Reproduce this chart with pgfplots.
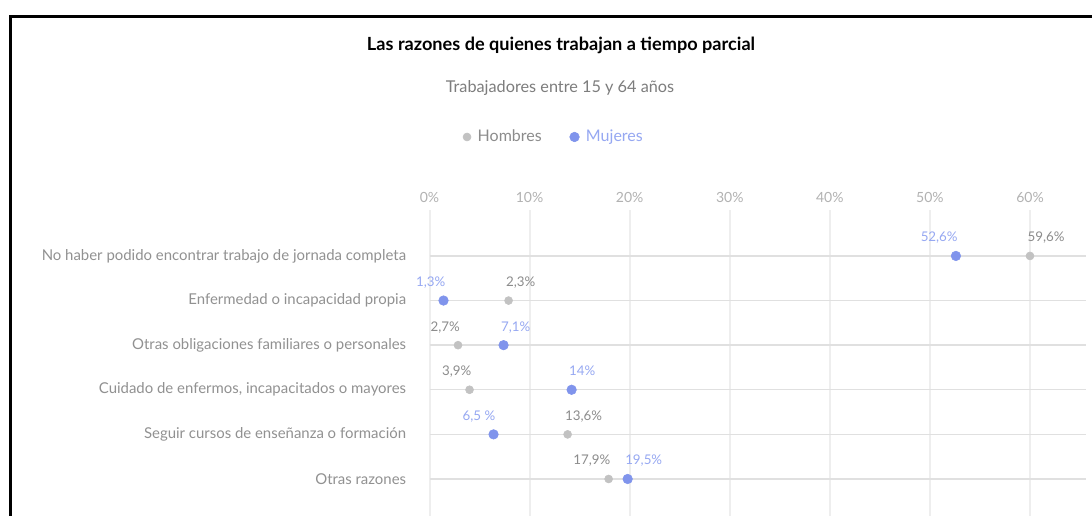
\documentclass[border=0pt]{standalone}
\usepackage{fontspec}
\setmainfont{Lato}
\usepackage{pgfplots}
\pgfplotsset{compat=1.18}
\definecolor{hdot}{RGB}{194,194,194}
\definecolor{mdot}{RGB}{128,148,236}
\definecolor{htxt}{RGB}{140,140,140}
\definecolor{mtxt}{RGB}{150,168,242}
\definecolor{cattxt}{RGB}{145,145,145}
\definecolor{ticktxt}{RGB}{178,178,178}
\definecolor{vgrid}{RGB}{238,238,238}
\definecolor{hgrid}{RGB}{224,224,224}
\definecolor{subtxt}{RGB}{125,125,125}
\begin{document}
\begin{tikzpicture}[x=0.75pt,y=-0.75pt]
\useasboundingbox (0,0) rectangle (1092,516);
\fill[white] (0,0) rectangle (1092,516);
\draw[black,line width=2.25pt] (10.5,520) -- (10.5,16.5) -- (1095,16.5);
\node[font=\bfseries\fontsize{13.6}{16}\selectfont] at (561,45) {Las razones de quienes trabajan a tiempo parcial};
\node[font=\fontsize{12.2}{14}\selectfont, text=subtxt] at (560,88) {Trabajadores entre 15 y 64 años};
\begin{axis}[
  at={(322.125pt,-157.5pt)}, anchor=north west,
  scale only axis, width=492.4pt, height=229.5pt,
  xmin=0, xmax=65.6, ymin=-1.03, ymax=5.83, y dir=reverse,
  axis line style={draw=none}, major tick length=0pt,
  xtick={0,10,...,60}, xticklabels={0\%,10\%,20\%,30\%,40\%,50\%,60\%},
  xticklabel pos=upper,
  xticklabel style={font=\fontsize{10.5}{12}\selectfont, text=ticktxt, yshift=2pt},
  ytick={0,...,5},
  yticklabels={No haber podido encontrar trabajo de jornada completa,
    Enfermedad o incapacidad propia,
    Otras obligaciones familiares o personales,
    {Cuidado de enfermos, incapacitados o mayores},
    Seguir cursos de enseñanza o formación,
    Otras razones},
  yticklabel style={font=\fontsize{11.2}{13}\selectfont, text=cattxt, xshift=-14pt},
  xmajorgrids, ymajorgrids,
  x grid style={vgrid, line width=1.5pt},
  y grid style={hgrid, line width=1pt},
  clip=false,
  legend style={draw=none, fill=none, legend columns=2, at={(0.19,1.2386)}, anchor=center,
    font=\fontsize{12}{14}\selectfont, /tikz/every even column/.append style={column sep=19pt}},
]
\addlegendimage{only marks, mark=*, mark size=3pt, color=hdot}
\addlegendentry{\hspace{3pt}\textcolor{htxt}{Hombres}}
\addlegendimage{only marks, mark=*, mark size=3.6pt, color=mdot}
\addlegendentry{\hspace{3pt}\textcolor{mtxt}{Mujeres}}
% Hombres, label left
\addplot[forget plot, only marks, mark=*, mark size=3pt, color=hdot, point meta=explicit symbolic,
  nodes near coords, nodes near coords style={anchor=base east, inner sep=0pt, xshift=1.5pt, yshift=10.5pt, text=htxt, font=\fontsize{10}{12}\selectfont}]
  coordinates {(2.85,2) [2,7\%] (4.0,3) [3,9\%] (17.9,5) [17,9\%]};
% Hombres, label right
\addplot[forget plot, only marks, mark=*, mark size=3pt, color=hdot, point meta=explicit symbolic,
  nodes near coords, nodes near coords style={anchor=base west, inner sep=0pt, xshift=-2pt, yshift=10.5pt, text=htxt, font=\fontsize{10}{12}\selectfont}]
  coordinates {(60.0,0) [59,6\%] (7.9,1) [2,3\%] (13.8,4) [13,6\%]};
% Mujeres, label left
\addplot[forget plot, only marks, mark=*, mark size=3.6pt, color=mdot, point meta=explicit symbolic,
  nodes near coords, nodes near coords style={anchor=base east, inner sep=0pt, xshift=1.5pt, yshift=10.5pt, text=mtxt, font=\fontsize{10}{12}\selectfont}]
  coordinates {(52.6,0) [52,6\%] (1.4,1) [1,3\%] (6.4,4) [6,5 \%]};
% Mujeres, label right
\addplot[forget plot, only marks, mark=*, mark size=3.6pt, color=mdot, point meta=explicit symbolic,
  nodes near coords, nodes near coords style={anchor=base west, inner sep=0pt, xshift=-2pt, yshift=10.5pt, text=mtxt, font=\fontsize{10}{12}\selectfont}]
  coordinates {(7.4,2) [7,1\%] (14.2,3) [14\%] (19.8,5) [19,5\%]};
\end{axis}
\end{tikzpicture}
\end{document}
